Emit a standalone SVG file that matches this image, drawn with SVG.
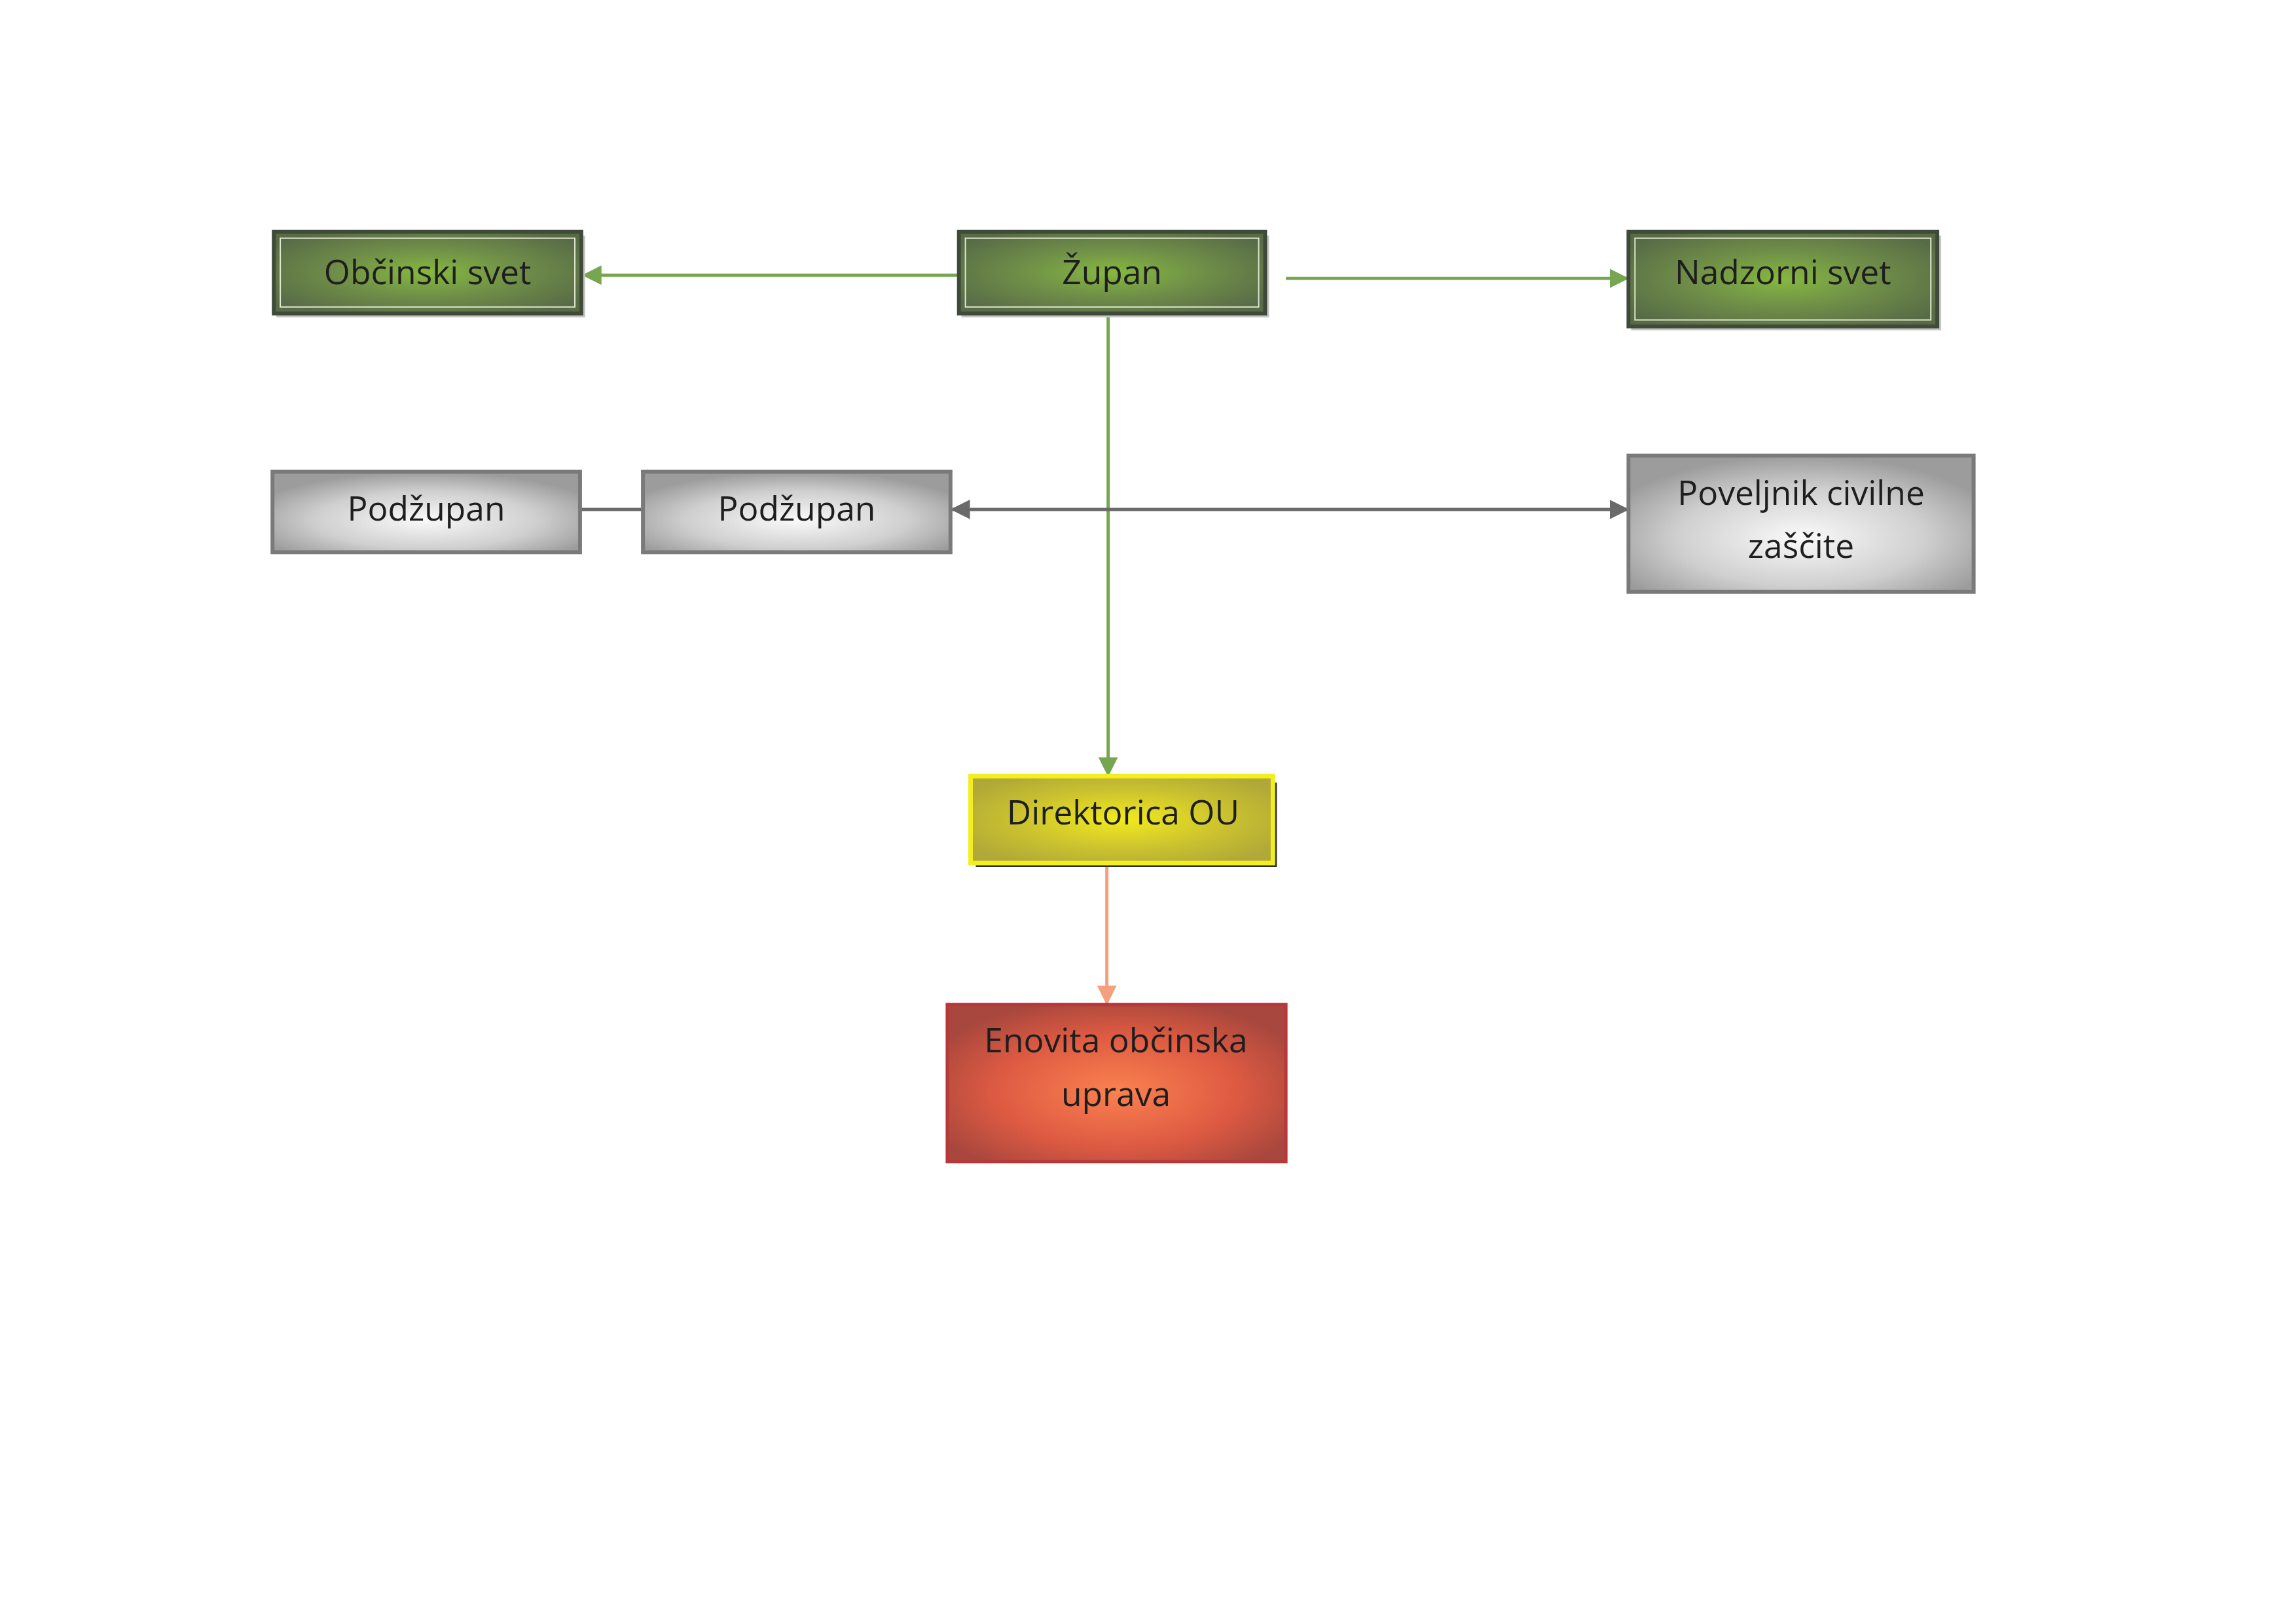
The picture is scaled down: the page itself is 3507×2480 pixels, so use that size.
<svg xmlns="http://www.w3.org/2000/svg" width="3507" height="2480" viewBox="0 0 3507 2480">
<defs>
<radialGradient id="gG" cx="50%" cy="50%" r="60%"><stop offset="0" stop-color="#86b840"/><stop offset="0.5" stop-color="#6f8e48"/><stop offset="1" stop-color="#586b47"/></radialGradient>
<radialGradient id="gY" cx="50%" cy="50%" r="60%"><stop offset="0" stop-color="#f2ea1e"/><stop offset="0.6" stop-color="#c9c030"/><stop offset="1" stop-color="#b0a838"/></radialGradient>
<radialGradient id="gR" cx="50%" cy="55%" r="60%"><stop offset="0" stop-color="#fb8150"/><stop offset="0.6" stop-color="#dd5a42"/><stop offset="1" stop-color="#a8473d"/></radialGradient>
<radialGradient id="gS" cx="50%" cy="60%" r="60%"><stop offset="0" stop-color="#fafafa"/><stop offset="0.6" stop-color="#cfcfcf"/><stop offset="1" stop-color="#9c9c9c"/></radialGradient>
<marker id="aG" viewBox="0 0 10 10" refX="9" refY="5" markerWidth="6" markerHeight="6" orient="auto-start-reverse"><path d="M0,0L10,5L0,10z" fill="#76a650"/></marker>
<marker id="aS" viewBox="0 0 10 10" refX="9" refY="5" markerWidth="6" markerHeight="6" orient="auto-start-reverse"><path d="M0,0L10,5L0,10z" fill="#6a6a6a"/></marker>
<marker id="aO" viewBox="0 0 10 10" refX="9" refY="5" markerWidth="6" markerHeight="6" orient="auto-start-reverse"><path d="M0,0L10,5L0,10z" fill="#f4a07c"/></marker>
</defs>
<style>
text{font-family:"Open Sans","Liberation Sans",sans-serif;font-size:52px;fill:#1e1e1e;text-anchor:middle}
.g{fill:url(#gG);stroke:#3f4a38;stroke-width:6}
.s{fill:url(#gS);stroke:#7a7a7a;stroke-width:6}
.y{fill:url(#gY);stroke:#f2ee20;stroke-width:7}
.r{fill:url(#gR);stroke:#b8383a;stroke-width:5}
.sh{fill:#c4c4c4}
.shd{fill:#2a2a2a}
.cg{stroke:#76a650;stroke-width:5;fill:none}
.cs{stroke:#6a6a6a;stroke-width:5;fill:none}
.co{stroke:#f4a07c;stroke-width:5;fill:none}
</style>
<g transform="scale(0.991)">
<g id="connectors">
<line class="cg" x1="1478" y1="424" x2="900" y2="424" marker-end="url(#aG)"/>
<line class="cg" x1="1982" y1="429" x2="2508" y2="429" marker-end="url(#aG)"/>
<line class="cg" x1="1708" y1="486" x2="1708" y2="1194" marker-end="url(#aG)"/>
<line class="cs" x1="894" y1="785" x2="991" y2="785"/>
<line class="cs" x1="1468" y1="785" x2="2508" y2="785" marker-start="url(#aS)" marker-end="url(#aS)"/>
<line class="co" x1="1706" y1="1334" x2="1706" y2="1546" marker-end="url(#aO)"/>
</g>
<g id="obcinski"><rect class="sh" x="426" y="363" width="476" height="126"/><rect class="g" x="422" y="357" width="474" height="126"/><rect x="432" y="367" width="454" height="106" fill="none" stroke="#dfe8d0" stroke-width="2"/><text x="659" y="438">Občinski svet</text></g>
<g id="zupan"><rect class="sh" x="1482" y="363" width="474" height="126"/><rect class="g" x="1478" y="357" width="472" height="126"/><rect x="1488" y="367" width="452" height="106" fill="none" stroke="#dfe8d0" stroke-width="2"/><text x="1714" y="438">Župan</text></g>
<g id="nadzorni"><rect class="sh" x="2514" y="363" width="478" height="146"/><rect class="g" x="2510" y="357" width="476" height="146"/><rect x="2520" y="367" width="456" height="126" fill="none" stroke="#dfe8d0" stroke-width="2"/><text x="2748" y="438">Nadzorni svet</text></g>
<g id="podzupan1"><rect class="s" x="420" y="727" width="474" height="124"/><text x="657" y="802">Podžupan</text></g>
<g id="podzupan2"><rect class="s" x="991" y="727" width="474" height="124"/><text x="1228" y="802">Podžupan</text></g>
<g id="poveljnik"><rect class="s" x="2510" y="702" width="532" height="210"/><text x="2776" y="778">Poveljnik civilne</text><text x="2776" y="860">zaščite</text></g>
<g id="direktorica"><rect class="shd" x="1504" y="1206" width="464" height="130"/><rect class="y" x="1496" y="1196" width="466" height="134"/><text x="1731" y="1270">Direktorica OU</text></g>
<g id="enovita"><rect class="r" x="1460" y="1548" width="522" height="242"/><text x="1720" y="1622">Enovita občinska</text><text x="1720" y="1704">uprava</text></g>
</g>
</svg>
